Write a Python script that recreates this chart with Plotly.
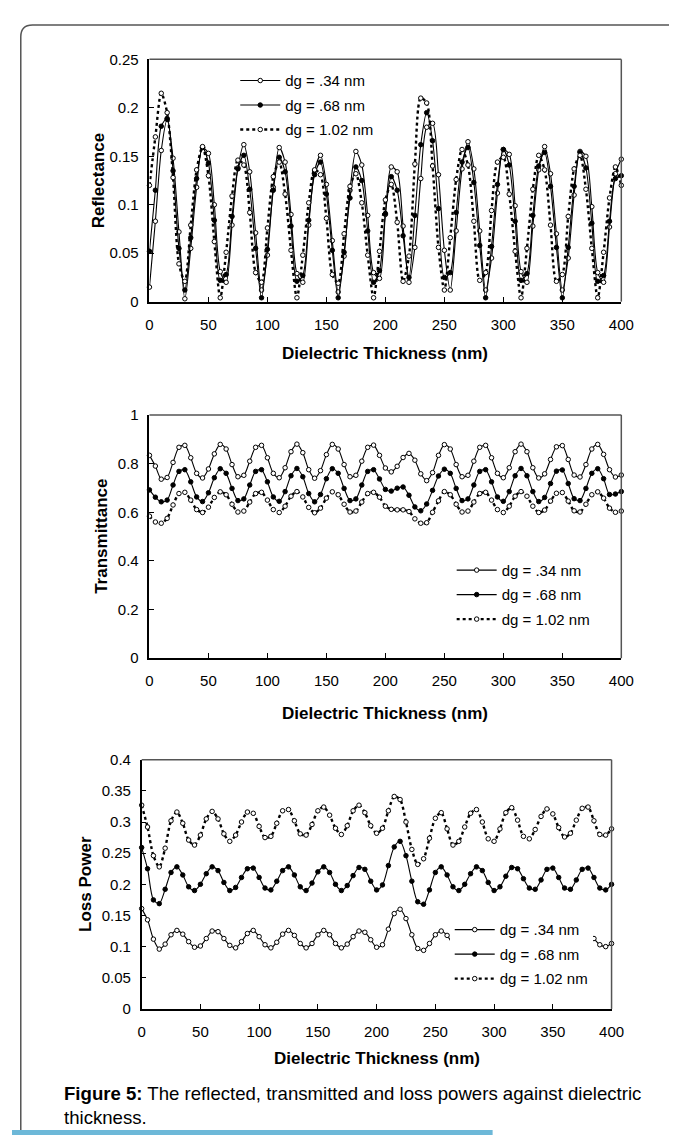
import plotly.graph_objects as go

W, H = 677, 1135
thickness = list(range(0, 405, 5))

# ---- Reflectance ----
refl_034 = [0.015, 0.083, 0.156, 0.188, 0.148, 0.072, 0.003, 0.055, 0.118, 0.159,
            0.153, 0.100, 0.031, 0.020, 0.079, 0.138, 0.162, 0.134, 0.071, 0.012,
            0.048, 0.118, 0.159, 0.144, 0.090, 0.029, 0.020, 0.079, 0.135, 0.151,
            0.121, 0.063, 0.010, 0.047, 0.115, 0.155, 0.141, 0.089, 0.030, 0.024,
            0.090, 0.139, 0.134, 0.078, 0.020, 0.056, 0.127, 0.180, 0.184, 0.131,
            0.053, 0.012, 0.073, 0.137, 0.165, 0.137, 0.073, 0.012, 0.045, 0.112,
            0.157, 0.152, 0.099, 0.031, 0.020, 0.078, 0.136, 0.160, 0.132, 0.070,
            0.012, 0.045, 0.110, 0.155, 0.150, 0.098, 0.030, 0.020, 0.077, 0.132,
            0.147]
refl_068 = [0.052, 0.115, 0.181, 0.189, 0.135, 0.055, 0.012, 0.066, 0.127, 0.159,
            0.143, 0.084, 0.022, 0.028, 0.088, 0.137, 0.151, 0.116, 0.055, 0.004,
            0.054, 0.115, 0.149, 0.134, 0.078, 0.021, 0.027, 0.084, 0.131, 0.144,
            0.111, 0.053, 0.004, 0.051, 0.107, 0.139, 0.125, 0.073, 0.020, 0.032,
            0.091, 0.129, 0.115, 0.068, 0.025, 0.089, 0.162, 0.195, 0.166, 0.096,
            0.025, 0.030, 0.092, 0.144, 0.159, 0.123, 0.058, 0.004, 0.057, 0.121,
            0.157, 0.141, 0.083, 0.022, 0.029, 0.089, 0.140, 0.154, 0.119, 0.056,
            0.004, 0.056, 0.119, 0.154, 0.138, 0.081, 0.021, 0.027, 0.083, 0.127,
            0.130]
refl_102 = [0.120, 0.170, 0.215, 0.195, 0.128, 0.039, 0.021, 0.079, 0.136, 0.160,
            0.130, 0.062, 0.004, 0.051, 0.109, 0.146, 0.141, 0.092, 0.030, 0.020,
            0.076, 0.129, 0.144, 0.111, 0.053, 0.004, 0.048, 0.102, 0.136, 0.131,
            0.086, 0.028, 0.019, 0.070, 0.119, 0.132, 0.102, 0.048, 0.004, 0.052,
            0.105, 0.121, 0.082, 0.021, 0.047, 0.142, 0.210, 0.205, 0.140, 0.056,
            0.012, 0.066, 0.126, 0.157, 0.141, 0.083, 0.022, 0.030, 0.094, 0.144,
            0.149, 0.111, 0.052, 0.004, 0.055, 0.116, 0.151, 0.136, 0.079, 0.021,
            0.028, 0.088, 0.137, 0.151, 0.116, 0.055, 0.004, 0.051, 0.107, 0.139,
            0.120]

# ---- Transmittance ----
trans_034 = [0.834, 0.790, 0.736, 0.743, 0.805, 0.867, 0.875, 0.824, 0.760, 0.741,
             0.778, 0.840, 0.879, 0.860, 0.796, 0.746, 0.752, 0.810, 0.867, 0.875,
             0.824, 0.760, 0.742, 0.783, 0.849, 0.880, 0.845, 0.775, 0.740, 0.771,
             0.837, 0.879, 0.860, 0.796, 0.746, 0.752, 0.810, 0.867, 0.876, 0.834,
             0.782, 0.766, 0.789, 0.825, 0.842, 0.814, 0.758, 0.730, 0.763, 0.834,
             0.878, 0.860, 0.796, 0.746, 0.752, 0.810, 0.867, 0.875, 0.824, 0.760,
             0.742, 0.783, 0.849, 0.880, 0.849, 0.783, 0.741, 0.758, 0.817, 0.869,
             0.874, 0.817, 0.753, 0.745, 0.796, 0.860, 0.879, 0.838, 0.775, 0.745,
             0.753]
trans_068 = [0.692, 0.662, 0.643, 0.650, 0.712, 0.768, 0.775, 0.725, 0.663, 0.644,
             0.680, 0.742, 0.779, 0.760, 0.698, 0.648, 0.655, 0.712, 0.768, 0.775,
             0.725, 0.663, 0.645, 0.685, 0.750, 0.780, 0.746, 0.677, 0.643, 0.673,
             0.738, 0.779, 0.760, 0.698, 0.648, 0.655, 0.712, 0.768, 0.775, 0.737,
             0.694, 0.687, 0.699, 0.704, 0.670, 0.622, 0.606, 0.634, 0.690, 0.749,
             0.777, 0.760, 0.698, 0.648, 0.655, 0.712, 0.768, 0.775, 0.725, 0.663,
             0.645, 0.685, 0.750, 0.780, 0.750, 0.685, 0.644, 0.661, 0.718, 0.769,
             0.774, 0.718, 0.656, 0.648, 0.698, 0.760, 0.779, 0.738, 0.673, 0.675,
             0.685]
trans_102 = [0.584, 0.560, 0.555, 0.575, 0.630, 0.677, 0.682, 0.650, 0.611, 0.599,
             0.621, 0.661, 0.684, 0.672, 0.633, 0.601, 0.605, 0.642, 0.677, 0.682,
             0.650, 0.611, 0.599, 0.625, 0.666, 0.685, 0.663, 0.620, 0.598, 0.617,
             0.658, 0.684, 0.672, 0.633, 0.601, 0.605, 0.642, 0.677, 0.682, 0.662,
             0.625, 0.612, 0.610, 0.610, 0.603, 0.573, 0.555, 0.557, 0.600, 0.647,
             0.685, 0.672, 0.633, 0.601, 0.605, 0.642, 0.677, 0.682, 0.650, 0.611,
             0.599, 0.625, 0.666, 0.685, 0.666, 0.625, 0.599, 0.609, 0.646, 0.678,
             0.681, 0.646, 0.606, 0.601, 0.633, 0.672, 0.684, 0.658, 0.617, 0.600,
             0.605]

# ---- Loss power ----
loss_034 = [0.161, 0.143, 0.112, 0.096, 0.104, 0.119, 0.126, 0.120, 0.108, 0.099,
            0.101, 0.113, 0.125, 0.124, 0.113, 0.102, 0.098, 0.108, 0.121, 0.126,
            0.116, 0.103, 0.098, 0.107, 0.120, 0.126, 0.118, 0.105, 0.098, 0.105,
            0.119, 0.126, 0.119, 0.105, 0.098, 0.104, 0.116, 0.125, 0.123, 0.111,
            0.099, 0.103, 0.128, 0.153, 0.160, 0.145, 0.119, 0.097, 0.094, 0.105,
            0.119, 0.125, 0.118, 0.104, 0.098, 0.104, 0.116, 0.125, 0.123, 0.111,
            0.099, 0.100, 0.112, 0.123, 0.125, 0.115, 0.102, 0.098, 0.108, 0.121,
            0.126, 0.116, 0.103, 0.098, 0.107, 0.120, 0.126, 0.113, 0.103, 0.100,
            0.105]
loss_068 = [0.259, 0.225, 0.175, 0.169, 0.192, 0.219, 0.228, 0.215, 0.196, 0.190,
            0.200, 0.217, 0.228, 0.222, 0.203, 0.190, 0.195, 0.211, 0.225, 0.226,
            0.211, 0.194, 0.191, 0.205, 0.222, 0.228, 0.215, 0.196, 0.190, 0.202,
            0.220, 0.228, 0.219, 0.200, 0.190, 0.198, 0.214, 0.227, 0.224, 0.205,
            0.191, 0.199, 0.230, 0.260, 0.269, 0.246, 0.205, 0.172, 0.168, 0.191,
            0.219, 0.228, 0.215, 0.196, 0.190, 0.200, 0.217, 0.228, 0.222, 0.203,
            0.190, 0.196, 0.213, 0.227, 0.225, 0.209, 0.194, 0.192, 0.207, 0.224,
            0.226, 0.211, 0.194, 0.192, 0.207, 0.224, 0.226, 0.211, 0.194, 0.191,
            0.200]
loss_102 = [0.327, 0.292, 0.246, 0.228, 0.258, 0.302, 0.316, 0.298, 0.271, 0.263,
            0.279, 0.305, 0.317, 0.305, 0.281, 0.269, 0.279, 0.300, 0.316, 0.314,
            0.293, 0.275, 0.277, 0.298, 0.318, 0.320, 0.302, 0.281, 0.279, 0.296,
            0.318, 0.324, 0.311, 0.290, 0.280, 0.294, 0.318, 0.327, 0.315, 0.294,
            0.282, 0.290, 0.318, 0.341, 0.336, 0.300, 0.256, 0.232, 0.241, 0.274,
            0.306, 0.315, 0.289, 0.263, 0.269, 0.292, 0.314, 0.320, 0.300, 0.273,
            0.269, 0.289, 0.315, 0.323, 0.303, 0.277, 0.273, 0.288, 0.309, 0.321,
            0.313, 0.291, 0.276, 0.282, 0.303, 0.322, 0.324, 0.302, 0.280, 0.279,
            0.289]

series_names = ["dg = .34 nm", "dg = .68 nm", "dg = 1.02 nm"]
x_ticks = [0, 50, 100, 150, 200, 250, 300, 350, 400]

FONT = "Liberation Sans, Arial, sans-serif"


def px(x):
    return x / W


def py(y):
    return 1 - y / H


fig = go.Figure()

panels = [
    ("x", "y", "legend", [refl_034, refl_068, refl_102], "top"),
    ("x2", "y2", "legend2", [trans_034, trans_068, trans_102], "mid"),
    ("x3", "y3", "legend3", [loss_034, loss_068, loss_102], "bot"),
]

for xa, ya, lg, data, tag in panels:
    styles = [
        dict(line=dict(color="black", width=1.1, shape="spline", smoothing=0.8),
             marker=dict(symbol="circle", size=4.5, color="white",
                         line=dict(color="black", width=1))),
        dict(line=dict(color="black", width=1.1, shape="spline", smoothing=0.8),
             marker=dict(symbol="circle", size=4.5, color="black",
                         line=dict(color="black", width=1))),
        dict(line=dict(color="black", width=2.4, dash="dot", shape="spline", smoothing=0.8),
             marker=dict(symbol="circle", size=4.5, color="white",
                         line=dict(color="black", width=1))),
    ]
    for name, vals, st in zip(series_names, data, styles):
        fig.add_trace(go.Scatter(
            x=thickness, y=vals, name=name, mode="lines+markers",
            xaxis=xa, yaxis=ya, legend=lg, legendgroup=tag + name,
            line=st["line"], marker=st["marker"], cliponaxis=False,
        ))

axis_common = dict(
    showgrid=False, zeroline=False, showline=True, linecolor="black",
    tickfont=dict(family=FONT, size=15, color="black"),
    tickcolor="black", ticklen=5, tickwidth=1, ticks="inside",
)

xdom_a = [px(141), px(625)]
xdom_b = [px(133), px(615)]

xcommon = dict(range=[0, 400], tickvals=x_ticks, linewidth=2, ticklabelstandoff=8, **axis_common)
ycommon = dict(linewidth=1.5, ticklabelstandoff=6, **axis_common)

leg_common = dict(xanchor="left", yanchor="top", font=dict(family=FONT, size=15),
                  tracegroupgap=2, itemwidth=40, borderwidth=0)

fig.update_layout(
    width=W, height=H, margin=dict(l=0, r=0, t=0, b=0),
    paper_bgcolor="white", plot_bgcolor="white",
    font=dict(family=FONT, size=15, color="black"),
    xaxis=dict(domain=xdom_a, anchor="y", **xcommon),
    yaxis=dict(domain=[py(289), py(43)], anchor="x", range=[0, 0.25], dtick=0.05, **ycommon),
    xaxis2=dict(domain=xdom_a, anchor="y2", **xcommon),
    yaxis2=dict(domain=[py(651), py(404)], anchor="x2", range=[0, 1], dtick=0.2, **ycommon),
    xaxis3=dict(domain=xdom_b, anchor="y3", **xcommon),
    yaxis3=dict(domain=[py(1007), py(754)], anchor="x3", range=[0, 0.4], dtick=0.05, **ycommon),
    legend=dict(x=px(229), y=py(48), bgcolor="rgba(0,0,0,0)", **leg_common),
    legend2=dict(x=px(451), y=py(545), bgcolor="rgba(0,0,0,0)", **leg_common),
    legend3=dict(x=px(449), y=py(910), bgcolor="white", entrywidth=110, **leg_common),
)

# frame top/right lines
shapes = []
for xa, ya in [("x", "y"), ("x2", "y2"), ("x3", "y3")]:
    shapes.append(dict(type="line", xref=xa + " domain", yref=ya + " domain",
                       x0=0, x1=1, y0=1, y1=1, line=dict(color="#555", width=1.5)))
    shapes.append(dict(type="line", xref=xa + " domain", yref=ya + " domain",
                       x0=1, x1=1, y0=0, y1=1, line=dict(color="#555", width=1.5)))

# outer rounded border and bottom accent line
shapes.append(dict(type="path", xref="paper", yref="paper",
                   path=(f"M {px(9)},{py(1131)} L {px(9)},{py(20)} "
                         f"Q {px(9)},{py(8)} {px(21)},{py(8)} L {px(677)},{py(8)}"),
                   line=dict(color="#555", width=1.5)))
shapes.append(dict(type="rect", xref="paper", yref="paper",
                   x0=0, x1=px(493), y0=py(1135), y1=py(1130),
                   fillcolor="#6db8d8", line=dict(width=0)))
fig.update_layout(shapes=shapes)

ann = []
title_font = dict(family=FONT, size=17, color="black")
for ycenter, xc in [(342, (141 + 625) / 2), (707, (141 + 625) / 2), (1057, (133 + 615) / 2)]:
    ann.append(dict(text="<b>Dielectric Thickness (nm)</b>", xref="paper", yref="paper",
                    x=px(xc), y=py(ycenter), showarrow=False, font=title_font,
                    xanchor="center", yanchor="middle"))
for label, ycenter, xc in [("Reflectance", 166, 89), ("Transmittance", 527, 91),
                           ("Loss Power", 880, 76)]:
    ann.append(dict(text=f"<b>{label}</b>", xref="paper", yref="paper",
                    x=px(xc), y=py(ycenter), showarrow=False, font=title_font,
                    textangle=-90, xanchor="center", yanchor="middle"))
ann.append(dict(text="<b>Figure 5:</b> The reflected, transmitted and loss powers against dielectric<br>thickness.",
                xref="paper", yref="paper", x=px(51), y=py(1080), xanchor="left",
                yanchor="top", align="left", showarrow=False,
                font=dict(family=FONT, size=18.6, color="black")))
fig.update_layout(annotations=ann)

fig.write_html("out.html")
